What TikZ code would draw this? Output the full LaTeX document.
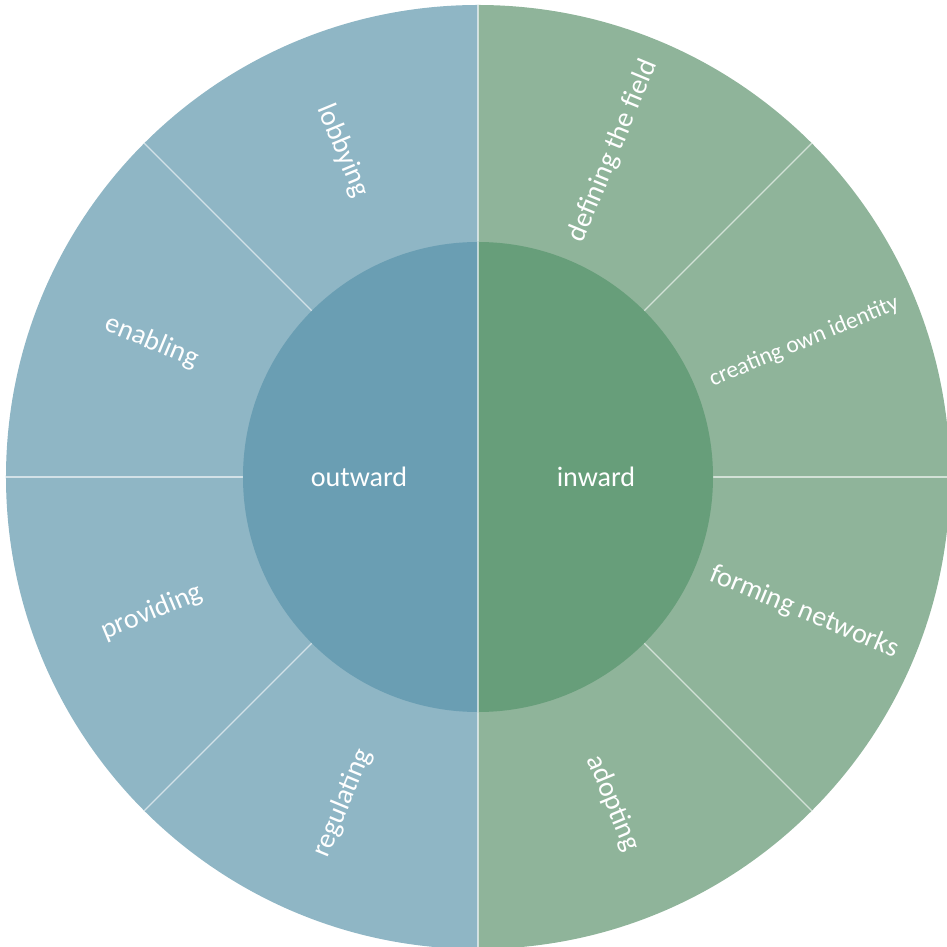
\documentclass[tikz,border=0pt]{standalone}
\usepackage{fontspec}
\setmainfont{Carlito}
\definecolor{ringblue}{HTML}{8FB6C5}
\definecolor{coreblue}{HTML}{6A9EB3}
\definecolor{ringgreen}{HTML}{8FB49A}
\definecolor{coregreen}{HTML}{679E7A}
\tikzset{
  sep/.style={draw=white, draw opacity=0.6, line width=0.35pt},
  lbl/.style={text=white, inner sep=0pt, font=\fontsize{8}{9}\selectfont},
  small/.style={font=\fontsize{6.7}{8}\selectfont}
}
\begin{document}
\begin{tikzpicture}
    \useasboundingbox (-4.78, -4.70) rectangle (4.69, 4.77);
    \clip (-4.78, -4.70) rectangle (4.69, 4.77);
    \fill[ringgreen] (0, 0) -- (-90:4.72) arc (-90:90:4.72) -- cycle;
    \fill[ringblue] (0, 0) -- (90:4.72) arc (90:270:4.72) -- cycle;
    \foreach \a in {0, 45, ..., 315}
        \draw[sep] (0, 0) -- (\a:4.72);
    \fill[coregreen] (0, 0) -- (-90:2.35) arc (-90:90:2.35) -- cycle;
    \fill[coreblue] (0, 0) -- (90:2.35) arc (90:270:2.35) -- cycle;
    \draw[sep] (0, -2.35) -- (0, 2.35);
    \node[lbl] (outward) at (-1.19, 0) {outward};
    \node[lbl] (inward) at (1.18, 0) {inward};
    \node[lbl, rotate=67.5] (field) at (67.5:3.53) {defining the field};
    \node[lbl, small, rotate=22.5] (identity) at (22.5:3.53) {creating own identity};
    \node[lbl, rotate=-22.5] (networks) at (-22.5:3.53) {forming networks};
    \node[lbl, rotate=-67.5] (adopting) at (-67.5:3.53) {adopting};
    \node[lbl, rotate=67.5] (regulating) at (-112.5:3.53) {regulating};
    \node[lbl, rotate=22.5] (providing) at (-157.5:3.53) {providing};
    \node[lbl, rotate=-22.5] (enabling) at (157.5:3.53) {enabling};
    \node[lbl, rotate=-67.5] (lobbying) at (112.5:3.53) {lobbying};
\end{tikzpicture}
\end{document}
